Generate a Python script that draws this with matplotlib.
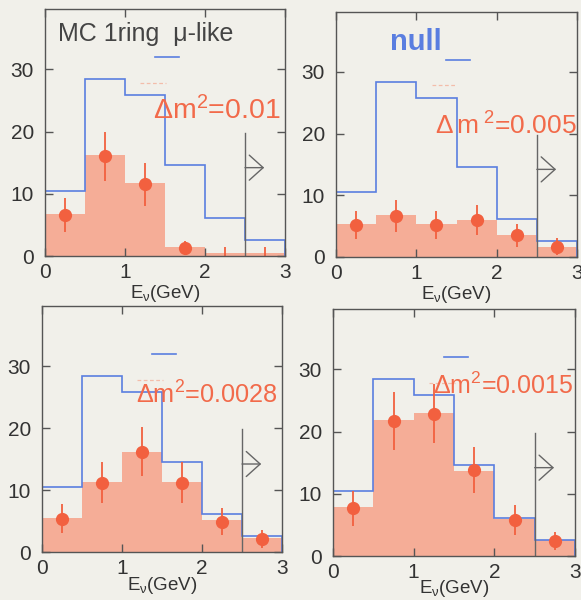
import numpy as np
import matplotlib
matplotlib.use("Agg")
import matplotlib.pyplot as plt

plt.rcParams['font.family'] = ['Liberation Sans', 'DejaVu Sans']
plt.rcParams['mathtext.fontset'] = 'custom'
plt.rcParams['mathtext.rm'] = 'Liberation Sans'
plt.rcParams['mathtext.it'] = 'Liberation Sans'
plt.rcParams['hatch.linewidth'] = 0.4

# ---- data -------------------------------------------------------------
bin_edges = [0.0, 0.5, 1.0, 1.5, 2.0, 2.5, 3.0]
bin_centers = [0.25, 0.75, 1.25, 1.75, 2.25, 2.75]

# no-oscillation expectation (same in every panel)
null_counts = [10.5, 28.4, 25.8, 14.6, 6.1, 2.6]

dm2_labels = ["0.01", "0.005", "0.0028", "0.0015"]

# oscillated MC histograms
osc_hist = [
    [6.8, 16.2, 11.8, 1.5, 0.5, 0.5],
    [5.3, 6.8, 5.3, 6.0, 3.6, 1.7],
    [5.5, 11.3, 16.2, 11.3, 5.1, 2.2],
    [7.8, 21.8, 23.0, 13.6, 5.9, 2.5],
]
# MC points with statistical errors
osc_points = [
    [6.6, 16.0, 11.5, 1.3, 0.0, 0.0],
    [5.2, 6.6, 5.2, 6.0, 3.5, 1.7],
    [5.4, 11.2, 16.2, 11.2, 4.9, 2.1],
    [7.7, 21.7, 22.9, 13.8, 5.8, 2.4],
]
osc_err = [
    [2.7, 4.0, 3.4, 1.1, 1.4, 1.4],
    [2.3, 2.6, 2.3, 2.4, 1.9, 1.3],
    [2.3, 3.3, 4.0, 3.3, 2.2, 1.4],
    [2.8, 4.7, 4.8, 3.7, 2.4, 1.5],
]

x_ticks = [0, 1, 2, 3]
y_ticks = [0, 10, 20, 30]

# ---- style / layout ---------------------------------------------------
W, H = 581, 600
BG = '#f1f0ea'
BLUE = '#5a7ee0'
RED = '#f2603f'
RED_TXT = '#f26a4a'
FILL = '#fde6dc'
HATCH_C = '#f5ad97'
FRAME = '#555555'

# panel boxes in pixels: left, right, top, bottom(y=0)
boxes = [(45, 285, 9, 256), (336, 577, 12, 257),
         (42, 282, 306, 552), (333, 575, 309, 556)]
label_pos = [(1.35, 21.9), (1.23, 19.8), (1.18, 24.0), (1.24, 26.0)]
label_size = [20.5, 19.0, 18.2, 18.0]
xlabel_pad = [1, 1, -2, -3]
YMAX = 39.7

fig = plt.figure(figsize=(W / 100, H / 100), dpi=100, facecolor=BG)

for i, (l, r, t, b) in enumerate(boxes):
    ax = fig.add_axes([l / W, 1 - b / H, (r - l) / W, (b - t) / H])
    ax.set_facecolor(BG)
    ax.set_xlim(0, 3)
    ax.set_ylim(0, YMAX)

    widths = np.diff(bin_edges)
    ax.bar(bin_edges[:-1], osc_hist[i], width=widths, align='edge',
           facecolor=FILL, edgecolor=HATCH_C, linewidth=0, hatch='x' * 25,
           zorder=1)
    ax.stairs(null_counts, bin_edges, baseline=0, color=BLUE, lw=1.2,
              zorder=2)

    pts = np.array(osc_points[i])
    err = np.array(osc_err[i])
    lower = np.minimum(err, pts)
    ax.errorbar(bin_centers, pts, yerr=[lower, err], fmt='none',
                ecolor=RED, elinewidth=1.3, capsize=0, zorder=3)
    shown = pts > 0
    ax.plot(np.array(bin_centers)[shown], pts[shown], 'o', color=RED,
            ms=8.5, mec=RED, zorder=4)

    # energy cut marker
    ax.plot([2.5, 2.5], [0, 19.8], color='#666666', lw=1.0, zorder=5)
    ax.annotate('', xy=(2.74, 14.2), xytext=(2.5, 14.2),
                arrowprops=dict(arrowstyle='->,head_length=0.5,head_width=0.45',
                                mutation_scale=20, shrinkA=0, shrinkB=0,
                                color='#666666', lw=1.0), zorder=5)

    # legend-style keys
    ax.plot([1.37, 1.67], [32.0, 32.0], color=BLUE, lw=1.2, zorder=5)
    ax.plot([1.19, 1.51], [27.8, 27.8], color='#f4a890', lw=0.9,
            ls=(0, (3, 2)), alpha=0.7, zorder=5)

    if i == 1:
        txt = r'$\Delta\,$m$^{\ 2}$=' + dm2_labels[i]
    else:
        txt = r'$\Delta$m$^2$=' + dm2_labels[i]
    ax.text(label_pos[i][0], label_pos[i][1], txt, color=RED_TXT,
            fontsize=label_size[i], ha='left', va='baseline', zorder=6)

    if i == 0:
        ax.text(0.16, 34.6, 'MC 1ring  \u03bc-like', color='#444444',
                fontsize=18, ha='left', va='baseline')
    if i == 1:
        ax.text(0.675, 33.6, 'null', color=BLUE, fontsize=21,
                fontweight='bold', ha='left', va='baseline')

    ax.set_xticks(x_ticks)
    ax.set_yticks(y_ticks)
    ax.tick_params(direction='in', length=6, width=1.0, color=FRAME,
                   top=True, right=True, labelsize=15, labelcolor='#333333',
                   pad=5)
    ax.tick_params(axis='y', pad=8)
    for s in ax.spines.values():
        s.set_color(FRAME)
        s.set_linewidth(1.0)
        s.set_zorder(7)
    ax.set_xlabel(r'E$_\nu$(GeV)', fontsize=13.5, color='#333333',
                  labelpad=xlabel_pad[i])

fig.savefig('out.png', dpi=100, facecolor=BG)
